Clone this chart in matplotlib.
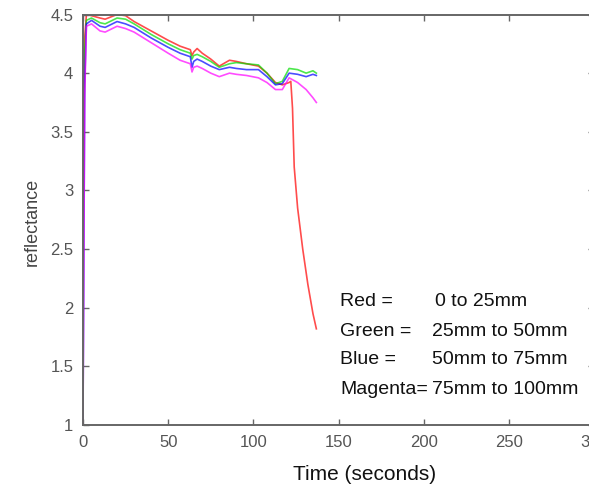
import matplotlib
matplotlib.use("Agg")
import matplotlib.pyplot as plt

# ---- data ----
t_common = [0, 1, 2, 5, 10, 13, 20, 25, 30, 40, 50, 57, 63, 64, 65, 67, 70, 75,
            80, 86, 90, 96, 103, 108, 113, 117, 121, 126, 131, 135, 137]
green = [2.6, 4.2, 4.45, 4.47, 4.43, 4.42, 4.47, 4.46, 4.42, 4.33, 4.25, 4.2, 4.17, 4.12,
         4.15, 4.16, 4.14, 4.1, 4.05, 4.08, 4.09, 4.08, 4.07, 4.0, 3.91, 3.93, 4.04, 4.03,
         4.0, 4.02, 4.0]
blue = [1.05, 3.9, 4.42, 4.45, 4.4, 4.39, 4.44, 4.42, 4.39, 4.3, 4.22, 4.17, 4.14, 4.05,
        4.1, 4.12, 4.1, 4.06, 4.03, 4.05, 4.04, 4.03, 4.03, 3.97, 3.9, 3.91, 4.0, 3.99,
        3.97, 3.99, 3.98]
magenta = [1.0, 3.8, 4.4, 4.42, 4.36, 4.35, 4.4, 4.38, 4.35, 4.26, 4.17, 4.11, 4.08, 4.01,
           4.05, 4.06, 4.04, 4.0, 3.97, 4.0, 3.99, 3.98, 3.96, 3.92, 3.86, 3.86, 3.96, 3.92,
           3.86, 3.79, 3.75]
t_red = [0, 1, 2, 5, 10, 13, 20, 25, 30, 40, 50, 57, 63, 64, 65, 67, 70, 75, 80, 86, 90,
         96, 103, 108, 113, 117, 121, 122, 123, 124, 126, 129, 132, 135, 137]
red = [2.8, 4.3, 4.5, 4.49, 4.47, 4.46, 4.5, 4.49, 4.44, 4.36, 4.28, 4.23, 4.2, 4.15, 4.18,
       4.21, 4.17, 4.12, 4.06, 4.11, 4.1, 4.08, 4.06, 4.0, 3.92, 3.9, 3.92, 3.93, 3.7, 3.2,
       2.85, 2.5, 2.2, 1.95, 1.82]

x_ticks = [0, 50, 100, 150, 200, 250, 300]
y_ticks = [1, 1.5, 2, 2.5, 3, 3.5, 4, 4.5]
legend_names = ["Red =", "Green =", "Blue =", "Magenta="]
legend_ranges = ["0 to 25mm", "25mm to 50mm", "50mm to 75mm", "75mm to 100mm"]

plt.rcParams['font.family'] = ['Liberation Sans', 'DejaVu Sans']

W, H = 589, 488
fig = plt.figure(figsize=(W / 100, H / 100), dpi=100)
ax = fig.add_axes([83 / W, (H - 425) / H, 511 / W, 410.5 / H])

lw = 1.2
ax.plot(t_red, red, color='#ff0000', lw=lw, alpha=0.7)
ax.plot(t_common, green, color='#00dd00', lw=lw, alpha=0.7)
ax.plot(t_common, blue, color='#0000ff', lw=lw, alpha=0.7)
ax.plot(t_common, magenta, color='#ff00ff', lw=lw, alpha=0.7)

ax.set_xlim(0, 300)
ax.set_ylim(1, 4.5)
ax.set_xticks(x_ticks)
ax.set_yticks(y_ticks)
ax.set_xticklabels([str(v) for v in x_ticks])
ax.set_yticklabels([f"{v:g}" for v in y_ticks])
ax.tick_params(direction='in', top=True, right=True, length=4, width=1,
               color='#666666', labelcolor='#555555', labelsize=12, pad=7)
for s in ax.spines.values():
    s.set_color('#666666')
    s.set_linewidth(1.4)

fig.text(32 / W, 1 - 222 / H, "reflectance", rotation=90, ha='center', va='center',
         fontsize=13, color='#444444')
fig.text(365 / W, 1 - 474 / H, "Time (seconds)", ha='center', va='center',
         fontsize=15, color='#111111')

ys = [302, 331, 360, 389]
for name, rng, y in zip(legend_names, legend_ranges, ys):
    fig.text(340 / W, 1 - y / H, name, ha='left', va='center', fontsize=14, color='#111111')
    xv = 435 if rng.startswith("0") else 432
    fig.text(xv / W, 1 - y / H, rng, ha='left', va='center', fontsize=14, color='#111111')

fig.savefig("out.png", dpi=100)
